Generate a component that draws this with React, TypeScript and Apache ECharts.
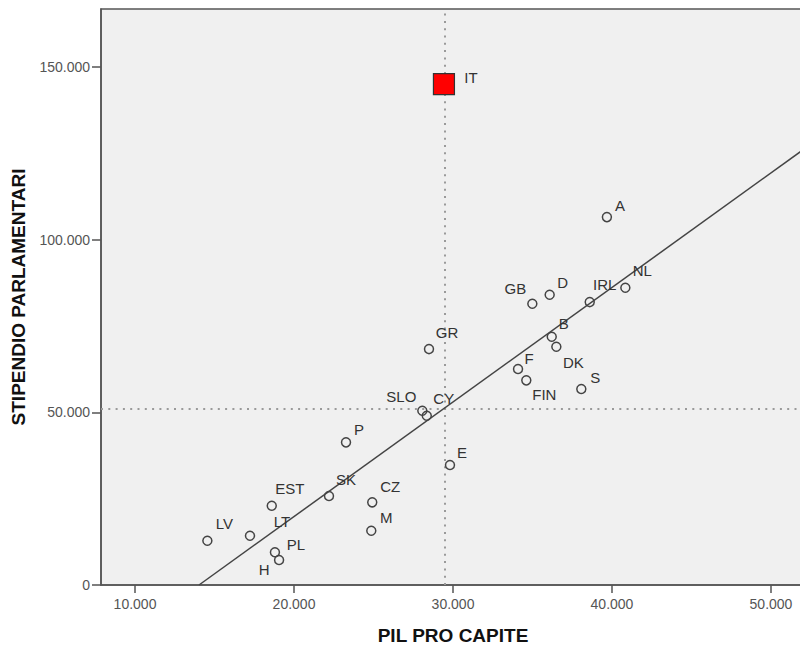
import React, { useEffect, useRef } from "react";
import * as echarts from "echarts";

const countries = ["LV", "LT", "EST", "PL", "H", "SK", "P", "CZ", "M", "SLO", "CY", "E", "GR", "A", "GB", "D", "IRL", "NL", "B", "DK", "F", "FIN", "S"];
const pilProCapite = [14550, 17230, 18600, 18800, 19060, 22200, 23270, 24920, 24860, 28070, 28350, 29810, 28490, 39680, 34990, 36080, 38600, 40840, 36210, 36500, 34090, 34610, 38070];
const stipendio = [12830, 14270, 22960, 9470, 7240, 25770, 41310, 23940, 15720, 50460, 49010, 34740, 68320, 106540, 81440, 84040, 81930, 86070, 71880, 68990, 62530, 59260, 56740];

const italyName = "IT";
const italyPil = 29430;
const italyStipendio = 145040;

const meanPil = 29450;
const meanStipendio = 50900;

const regressionLine = [
  [14025, 0],
  [52140, 126430],
];

const xTicks = [10000, 20000, 30000, 40000, 50000];

// label offsets (px) relative to the marker centre
const labelOffsets: Record<string, [number, number]> = {
  LV: [17, -17], LT: [32, -14], EST: [18, -17], PL: [21, -8], H: [-15, 10],
  SK: [17, -17], P: [13, -13], CZ: [18, -16], M: [15, -13], SLO: [-21, -14],
  CY: [17, -17], E: [12, -13], GR: [18, -17], A: [13, -12], GB: [-17, -15],
  D: [13, -12], IRL: [15, -18], NL: [17, -17], B: [12, -13], DK: [17, 16],
  F: [11, -11], FIN: [18, 14], S: [14, -12], IT: [27, -7],
};

const fmt = (v: number) => String(Math.round(v)).replace(/\B(?=(\d{3})+(?!\d))/g, ".");

const FONT = "'Liberation Sans', Arial, sans-serif";

export default function App() {
  const ref = useRef<HTMLDivElement>(null);
  useEffect(() => {
    if (!ref.current) return;
    const chart = echarts.init(ref.current, null, { renderer: "svg" });
    const pointData = countries.map((c, i) => ({
      name: c,
      value: [pilProCapite[i], stipendio[i]],
      label: { offset: labelOffsets[c] },
    }));
    chart.setOption({
      animation: false,
      backgroundColor: "#ffffff",
      grid: {
        left: 101,
        top: 9,
        right: -5,
        bottom: 63,
        show: true,
        backgroundColor: "#f0f0f0",
        borderColor: "#555555",
        borderWidth: 1.5,
        containLabel: false,
        outerBoundsMode: "none",
      },
      xAxis: {
        type: "value",
        min: 7860,
        max: 52140,
        name: "PIL PRO CAPITE",
        nameLocation: "middle",
        nameGap: 41,
        nameTextStyle: { fontFamily: FONT, fontWeight: "bold", fontSize: 19, color: "#111" },
        axisLine: { show: true, onZero: false, lineStyle: { color: "#555", width: 1.5 } },
        axisTick: { show: true, customValues: xTicks, length: 8, lineStyle: { color: "#555", width: 1.5 } },
        axisLabel: { customValues: xTicks, formatter: fmt, fontFamily: FONT, fontSize: 14, color: "#555", margin: 12 },
        splitLine: { show: false },
      },
      yAxis: {
        type: "value",
        min: 0,
        max: 166800,
        interval: 50000,
        name: "STIPENDIO PARLAMENTARI",
        nameLocation: "middle",
        nameGap: 71,
        nameTextStyle: { fontFamily: FONT, fontWeight: "bold", fontSize: 19, color: "#111" },
        axisLine: { show: true, onZero: false, lineStyle: { color: "#555", width: 1.5 } },
        axisTick: { show: true, length: 9, lineStyle: { color: "#555", width: 1.5 } },
        axisLabel: { formatter: fmt, fontFamily: FONT, fontSize: 14, color: "#555", margin: 11, showMaxLabel: false },
        splitLine: { show: false },
      },
      series: [
        {
          type: "line",
          data: regressionLine,
          showSymbol: false,
          symbol: "none",
          clip: true,
          z: 1,
          lineStyle: { color: "#444", width: 1.5 },
          silent: true,
          markLine: {
            silent: true,
            symbol: "none",
            z: 1,
            label: { show: false },
            lineStyle: { color: "#9a9a9a", width: 2, type: [2, 5.3] },
            data: [{ xAxis: meanPil }, { yAxis: meanStipendio }],
          },
        },
        {
          type: "scatter",
          data: pointData,
          symbol: "circle",
          symbolSize: 9,
          z: 5,
          itemStyle: { color: "rgba(0,0,0,0)", borderColor: "#444", borderWidth: 1.5, opacity: 1 },
          label: {
            show: true,
            position: "inside",
            formatter: (p: any) => p.name,
            fontFamily: FONT,
            fontSize: 15,
            color: "#333",
          },
        },
        {
          type: "scatter",
          data: [{ name: italyName, value: [italyPil, italyStipendio], label: { offset: labelOffsets.IT } }],
          symbol: "rect",
          symbolSize: 21,
          z: 10,
          itemStyle: { color: "#ff0000", borderColor: "#333", borderWidth: 1.2, opacity: 1 },
          label: {
            show: true,
            position: "inside",
            formatter: (p: any) => p.name,
            fontFamily: FONT,
            fontSize: 15,
            color: "#333",
          },
        },
      ],
    });
    return () => chart.dispose();
  }, []);
  return <div ref={ref} style={{ width: 800, height: 648, position: "absolute", left: 0, top: 0 }} />;
}
